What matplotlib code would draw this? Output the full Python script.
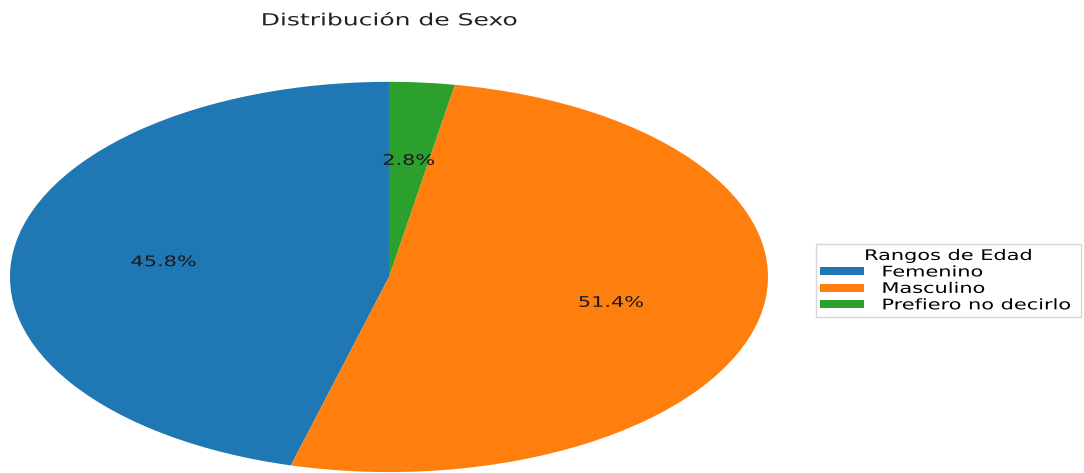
import matplotlib
matplotlib.use("Agg")
import matplotlib.pyplot as plt
from matplotlib.patheffects import AbstractPathEffect
from matplotlib.transforms import Affine2D

# Response counts per category
categories = ["Femenino", "Masculino", "Prefiero no decirlo"]
counts = [33, 37, 2]
colors = ["#1f77b4", "#ff7f0e", "#2ca02c"]
chart_title = "Distribución de Sexo"
legend_title = "Rangos de Edad"


class Widen(AbstractPathEffect):
    """Draw text with its glyphs widened horizontally."""

    def __init__(self, sx, anchor="center"):
        super().__init__()
        self.sx = sx
        self.anchor = anchor

    def draw_path(self, renderer, gc, tpath, affine, rgbFace=None):
        ext = tpath.get_extents(affine)
        cx = ext.x0 if self.anchor == "left" else 0.5 * (ext.x0 + ext.x1)
        t = affine + Affine2D().translate(-cx, 0).scale(self.sx, 1).translate(cx, 0)
        renderer.draw_path(gc, tpath, t, rgbFace)


SX = 1.43

fig = plt.figure(figsize=(10.84, 4.73), dpi=100)
ax = fig.add_axes([0.0092, 0.002, 0.6993, 0.825])

wedges, texts, autotexts = ax.pie(
    counts,
    colors=colors,
    autopct="%1.1f%%",
    startangle=90,
    pctdistance=0.6,
    textprops={"fontsize": 10.5, "color": "#1a1a1a"},
)
for t in autotexts:
    t.set_path_effects([Widen(SX, "center")])
ax.set_aspect("auto")
ax.set_xlim(-1, 1)
ax.set_ylim(-1, 1)

title = fig.text(0.359, 0.957, chart_title, ha="center", va="center",
                 fontsize=12, color="#222222")
title.set_path_effects([Widen(1.5, "center")])

leg = fig.legend(
    wedges,
    categories,
    title=legend_title,
    loc="upper left",
    bbox_to_anchor=(816 / 1084, 0.0, 265 / 1084, 0.485),
    mode="expand",
    borderaxespad=0,
    fontsize=10.5,
    title_fontsize=10.5,
    labelspacing=0.1,
    handlelength=3.0,
    handleheight=0.45,
    handletextpad=1.23,
    borderpad=0.3,
    fancybox=False,
)
for t in leg.get_texts():
    t.set_path_effects([Widen(SX, "left")])
leg.get_title().set_path_effects([Widen(SX, "center")])

fig.savefig("out.png", dpi=100)
